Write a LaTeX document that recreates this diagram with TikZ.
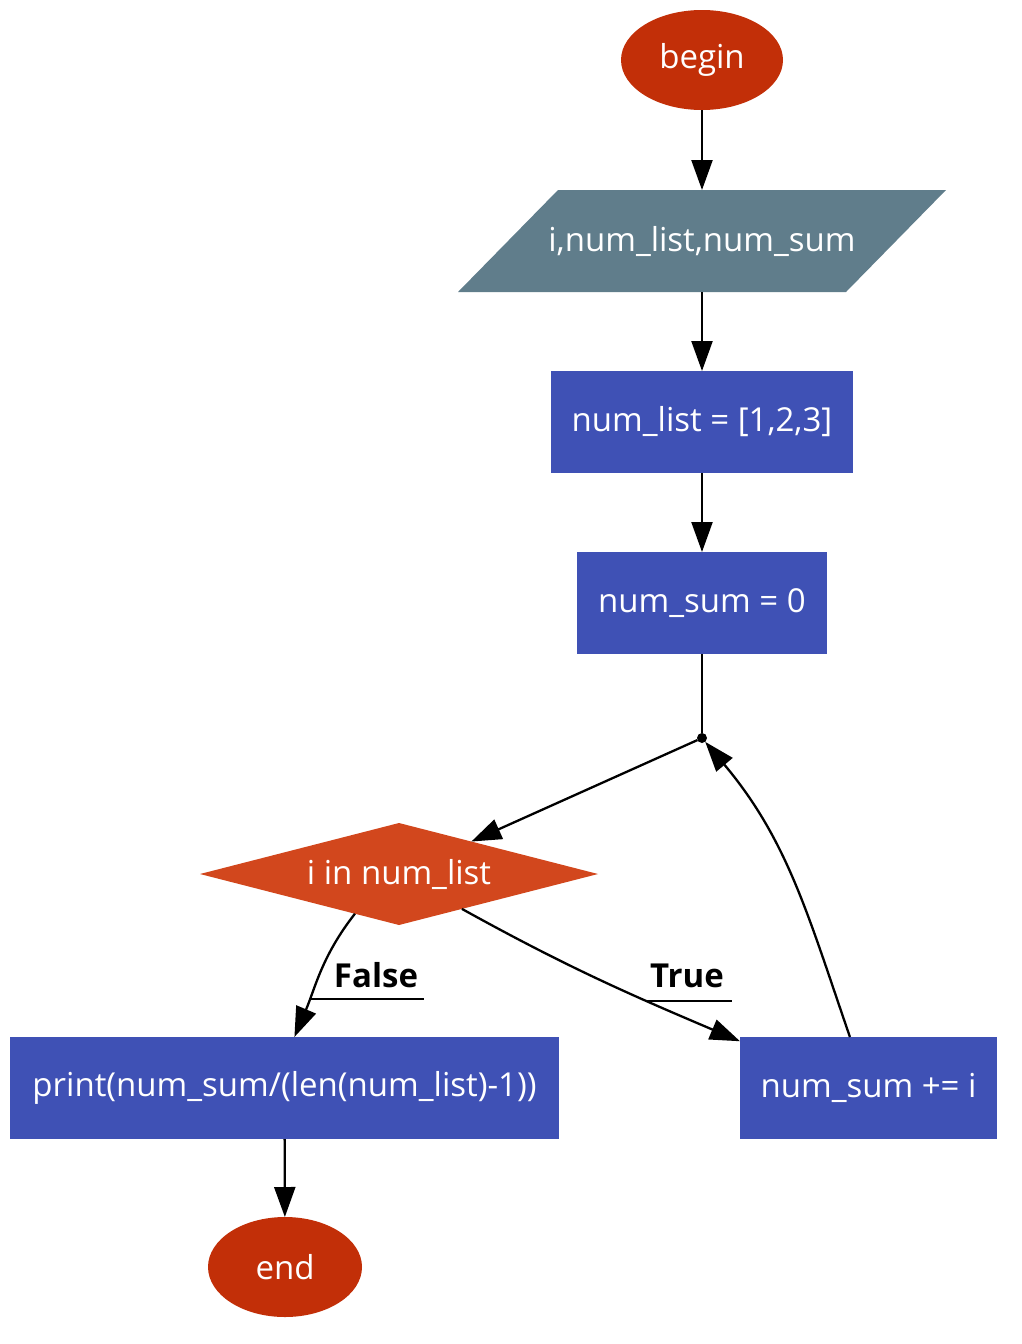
\documentclass[tikz,border=0pt]{standalone}
\usepackage{fontspec}
\setmainfont{Open Sans}
\usepackage{tikz}
\usetikzlibrary{arrows.meta, positioning, backgrounds}
\usetikzlibrary{shapes.geometric}

\definecolor{termred}{RGB}{194,47,8}
\definecolor{iogrey}{RGB}{96,125,139}
\definecolor{procblue}{RGB}{63,81,181}
\definecolor{condorange}{RGB}{210,71,29}

\begin{document}
\begin{tikzpicture}[x=1pt, y=-1pt,
    font=\fontsize{33}{39}\selectfont,
    every node/.style={inner sep=0pt, outer sep=0pt},
    term/.style={ellipse, fill=termred, text=white},
    io/.style={rectangle, text=white, minimum width=388, minimum height=102},
    proc/.style={rectangle, fill=procblue, text=white, minimum height=102},
    cond/.style={diamond, aspect=4, fill=condorange, text=white,
      minimum width=398, minimum height=102},
    lbl/.style={font=\fontsize{33}{39}\selectfont\bfseries},
    edge/.style={line width=2.3pt, -{Triangle[length=30pt, width=21pt]}},
    link/.style={line width=2.3pt}]
  \useasboundingbox (0,0) rectangle (1022,1344);

  \node[term, minimum width=162, minimum height=100] (begin) at (702,60) {begin};
  \node[io] (vars) at (702,241) {i,num\_list,num\_sum};
  \node[proc, minimum width=302] (setlist) at (702,422) {num\_list = [1,2,3]};
  \node[proc, minimum width=250] (setsum) at (702,603) {num\_sum = 0};
  \node[circle, fill=black, minimum size=10] (loop) at (702,738) {};
  \node[cond] (test) at (399,874) {i in num\_list};
  \node[proc, minimum width=549] (show) at (284.5,1088) {print(num\_sum/(len(num\_list)-1))};
  \node[proc, minimum width=257] (add) at (868.5,1088) {num\_sum += i};
  \node[term, minimum width=154, minimum height=100] (end) at (285,1267) {end};

  % parallelogram behind the input node
  \begin{scope}[on background layer]
    \fill[iogrey] ([xshift=50]vars.north west) -- ([xshift=50]vars.north east)
      -- ([xshift=-50]vars.south east) -- ([xshift=-50]vars.south west) -- cycle;
  \end{scope}

  \draw[edge] (begin) -- (vars);
  \draw[edge] (vars) -- (setlist);
  \draw[edge] (setlist) -- (setsum);
  \draw[link] (setsum) -- (loop);
  \draw[edge] (loop) -- (test);
  \draw[edge] (test.222) to[out=232, in=67] coordinate[pos=0.72] (fpt) (show.79);
  \draw[edge] (test.-29) to[out=-29, in=157] coordinate[pos=0.68] (tpt) (add.160);
  \draw[edge] (add.110) to[out=109, in=-50] (loop);
  \draw[edge] (show) -- (end);

  % branch labels
  \node[lbl, anchor=base] (no) at (376,987) {False};
  \node[lbl, anchor=base] (yes) at (687,987) {True};
  \draw[line width=2pt] (fpt) -- ([xshift=6]fpt -| no.east);
  \draw[line width=2pt] (tpt) -- ([xshift=8]tpt -| yes.east);
\end{tikzpicture}
\end{document}
